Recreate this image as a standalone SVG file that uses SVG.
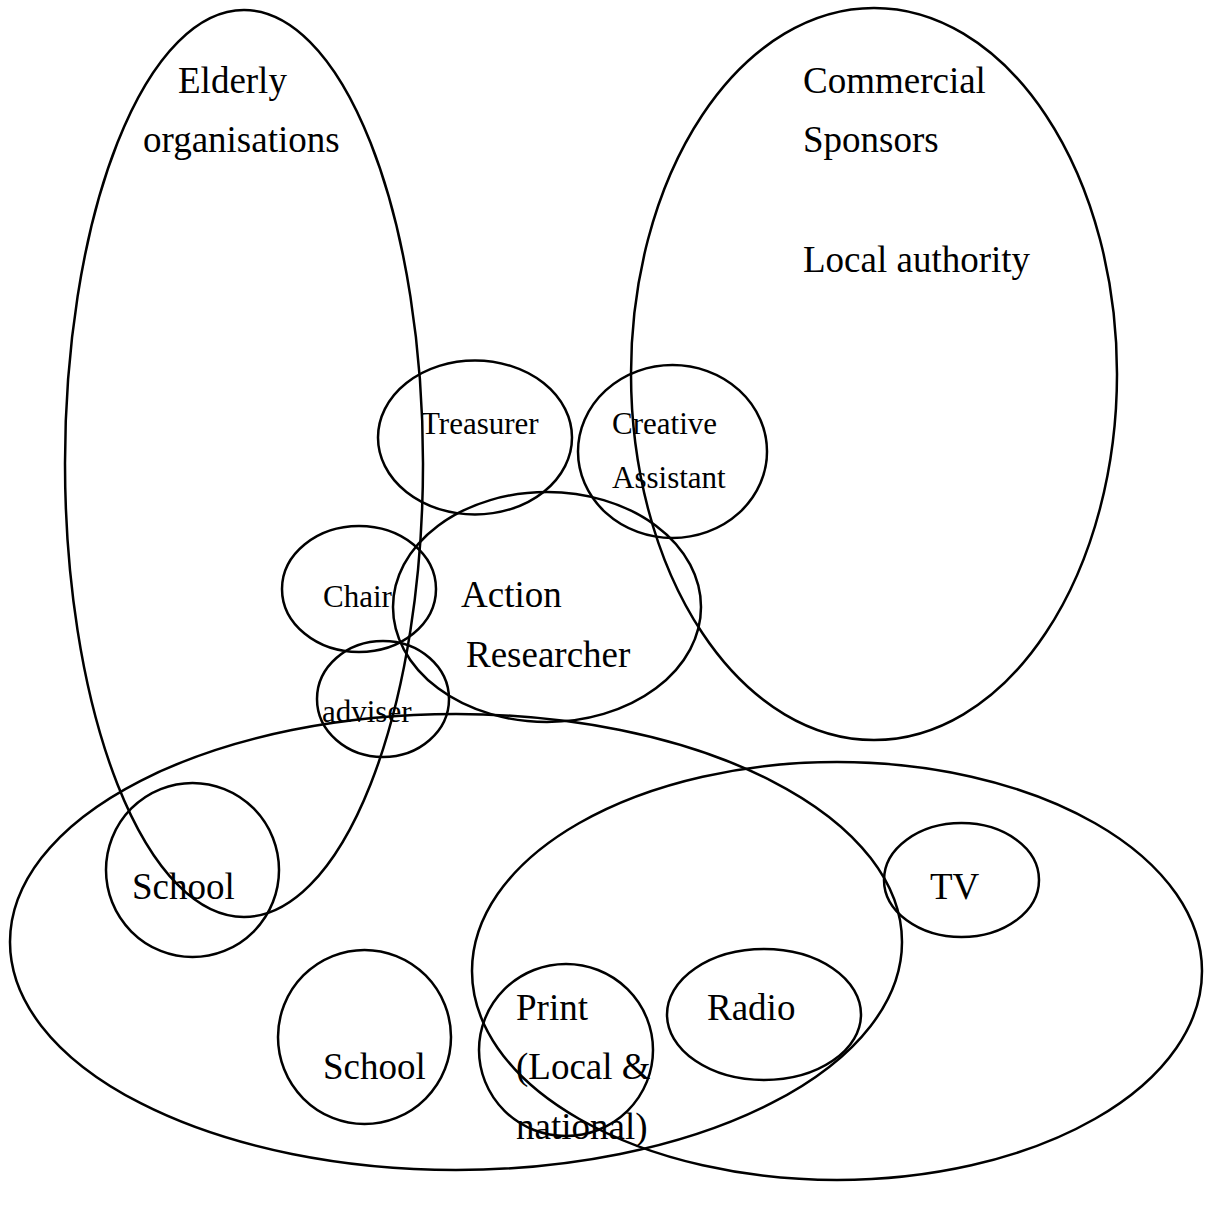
<svg xmlns="http://www.w3.org/2000/svg" width="1206" height="1208" viewBox="0 0 1206 1208">
<style>
.s{fill:none;stroke:#000;stroke-width:2.5}
.t{font-family:"Liberation Serif","Times New Roman",serif;fill:#000}
.L{font-size:37px}
.M{font-size:31px}
</style>
<rect width="1206" height="1208" fill="#fff"/>
<g id="elderly"><ellipse class="s" cx="244" cy="463.5" rx="179" ry="453.5"/>
<text class="t L" x="178" y="93">Elderly</text><text class="t L" x="143" y="152">organisations</text></g>
<g id="commercial"><ellipse class="s" cx="874" cy="374" rx="243" ry="366"/>
<text class="t L" x="803" y="93">Commercial</text><text class="t L" x="803" y="152">Sponsors</text><text class="t L" x="803" y="272">Local authority</text></g>
<g id="schools-group"><ellipse class="s" cx="456" cy="942" rx="446" ry="228"/></g>
<g id="media-group"><ellipse class="s" cx="837" cy="971" rx="365" ry="209"/></g>
<g id="treasurer"><ellipse class="s" cx="475" cy="437.5" rx="97" ry="77"/><text class="t M" x="421" y="434">Treasurer</text></g>
<g id="creative"><ellipse class="s" cx="672.5" cy="451.5" rx="94.5" ry="86.5"/><text class="t M" x="612" y="434">Creative</text><text class="t M" x="612" y="488">Assistant</text></g>
<g id="action"><ellipse class="s" cx="547" cy="607" rx="154" ry="115"/><text class="t L" x="461" y="607">Action</text><text class="t L" x="466" y="667">Researcher</text></g>
<g id="chair"><ellipse class="s" cx="359" cy="589" rx="77" ry="63"/><text class="t M" x="323" y="607">Chair</text></g>
<g id="adviser"><ellipse class="s" cx="383" cy="699" rx="66" ry="58"/><text class="t M" x="322" y="722">adviser</text></g>
<g id="school1"><ellipse class="s" cx="192.5" cy="870" rx="86.5" ry="87"/><text class="t L" x="132" y="899">School</text></g>
<g id="school2"><ellipse class="s" cx="364.5" cy="1037" rx="86.5" ry="87"/><text class="t L" x="323" y="1079">School</text></g>
<g id="print"><ellipse class="s" cx="566" cy="1050" rx="87" ry="86"/><text class="t L" x="516" y="1020">Print</text><text class="t L" x="516" y="1079">(Local &amp;</text><text class="t L" x="516" y="1139">national)</text></g>
<g id="radio"><ellipse class="s" cx="764" cy="1014.5" rx="97" ry="65.5"/><text class="t L" x="707" y="1020">Radio</text></g>
<g id="tv"><ellipse class="s" cx="961.5" cy="880" rx="77.5" ry="57"/><text class="t L" x="930" y="899">TV</text></g>
<g id="connectors"/>
</svg>
